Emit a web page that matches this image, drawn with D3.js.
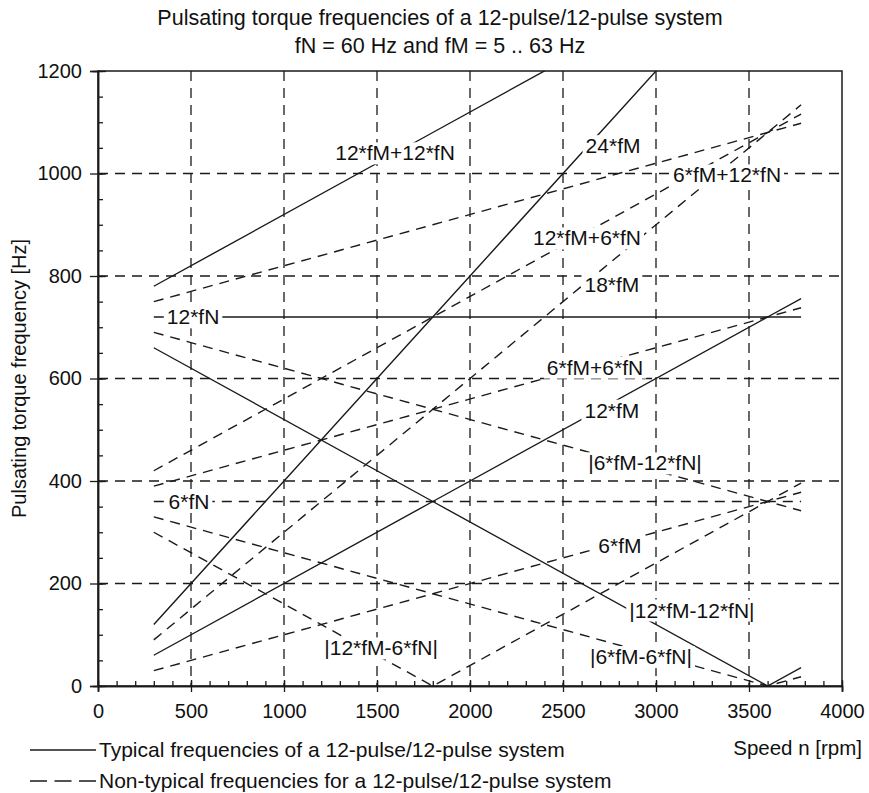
<!DOCTYPE html>
<html>
<head>
<meta charset="utf-8">
<script src="https://cdn.jsdelivr.net/npm/d3@7"></script>
<style>
  body { margin: 0; background: #fff; }
  text { font-family: "Liberation Sans", Arial, sans-serif; fill: #111; }
</style>
</head>
<body>
<div id="viz"></div>
<script>
// speed n [rpm] at which each curve is read (start, kinks, end)
const speeds = [300, 1800, 3600, 3780];

// pulsating torque frequency [Hz] per curve, read at the speeds above
const f12M12N = [780, 1080, 1440, 1476];
const f24M = [120, 720, 1440, 1512];
const f18M = [90, 540, 1080, 1134];
const f12M6N = [420, 720, 1080, 1116];
const f6M12N = [750, 900, 1080, 1098];
const f12N = [720, 720, 720, 720];
const f6M6N = [390, 540, 720, 738];
const f12M = [60, 360, 720, 756];
const fAbs6M12N = [690, 540, 360, 342];
const f6N = [360, 360, 360, 360];
const f6M = [30, 180, 360, 378];
const fAbs12M12N = [660, 360, 0, 36];
const fAbs12M6N = [300, 0, 360, 396];
const fAbs6M6N = [330, 180, 0, 18];

const seriesNames = ['12*fM+12*fN', '24*fM', '18*fM', '12*fM+6*fN', '6*fM+12*fN', '12*fN',
  '6*fM+6*fN', '12*fM', '|6*fM-12*fN|', '6*fN', '6*fM', '|12*fM-12*fN|', '|12*fM-6*fN|', '|6*fM-6*fN|'];
const seriesValues = [f12M12N, f24M, f18M, f12M6N, f6M12N, f12N,
  f6M6N, f12M, fAbs6M12N, f6N, f6M, fAbs12M12N, fAbs12M6N, fAbs6M6N];
const seriesTypical = [true, true, false, false, false, true,
  false, true, false, false, false, true, false, false];

// where each label sits, in chart units (rpm, Hz)
const labelSpeed = [1597, 2769, 2763, 2629, 3382, 511, 2672, 2763, 2941, 489, 2806, 3193, 1522, 2919];
const labelFreq = [1040, 1054, 784, 874, 997, 720, 622, 538, 435, 360, 273, 148, 74, 57];

const xTicks = [0, 500, 1000, 1500, 2000, 2500, 3000, 3500, 4000];
const yTicks = [0, 200, 400, 600, 800, 1000, 1200];

const legendLabels = ['Typical frequencies of a 12-pulse/12-pulse system',
  'Non-typical frequencies for a 12-pulse/12-pulse system'];

const width = 869;
const height = 793;
const margin = { top: 71, right: 27, bottom: 107, left: 98 };
const boundedWidth = width - margin.left - margin.right;
const boundedHeight = height - margin.top - margin.bottom;
const ink = '#1a1a1a';
const dash = '10,7';

const svg = d3.select('#viz').append('svg')
  .attr('width', width)
  .attr('height', height);

svg.append('defs').append('clipPath').attr('id', 'plot-clip')
  .append('rect').attr('width', boundedWidth).attr('height', boundedHeight);

const xScale = d3.scaleLinear().domain([0, 4000]).range([0, boundedWidth]);
const yScale = d3.scaleLinear().domain([0, 1200]).range([boundedHeight, 0]);

const viz = svg.append('g')
  .attr('transform', `translate(${margin.left}, ${margin.top})`);

// dashed grid
viz.append('g').selectAll('line')
  .data(xTicks.slice(1, -1)).join('line')
  .attr('x1', d => xScale(d)).attr('x2', d => xScale(d))
  .attr('y1', 0).attr('y2', boundedHeight)
  .attr('stroke', ink).attr('stroke-width', 1.3).attr('stroke-dasharray', dash);
viz.append('g').selectAll('line')
  .data(yTicks.slice(1, -1)).join('line')
  .attr('x1', 0).attr('x2', boundedWidth)
  .attr('y1', d => yScale(d)).attr('y2', d => yScale(d))
  .attr('stroke', ink).attr('stroke-width', 1.3).attr('stroke-dasharray', dash);

// curves
const line = d3.line().x(d => xScale(d[0])).y(d => yScale(d[1]));
viz.append('g').attr('clip-path', 'url(#plot-clip)')
  .selectAll('path')
  .data(seriesValues).join('path')
  .attr('d', vals => line(speeds.map((s, i) => [s, vals[i]])))
  .attr('fill', 'none')
  .attr('stroke', ink)
  .attr('stroke-width', 1.4)
  .attr('stroke-dasharray', (d, i) => seriesTypical[i] ? null : dash);

// frame
viz.append('rect')
  .attr('width', boundedWidth).attr('height', boundedHeight)
  .attr('fill', 'none').attr('stroke', ink).attr('stroke-width', 1.5);

// axes: major ticks cross the axis, minor ticks point inside
const xAxis = viz.append('g').attr('transform', `translate(0, ${boundedHeight})`);
xAxis.call(d3.axisBottom(xScale).tickValues(d3.range(0, 4001, 100)).tickSize(5).tickFormat(''))
  .selectAll('.tick line').attr('y2', -5);
xAxis.append('g').call(d3.axisBottom(xScale).tickValues(xTicks).tickSize(6).tickPadding(12).tickFormat(d3.format('d')))
  .call(g => g.selectAll('.tick line').attr('y1', -6));
xAxis.selectAll('.domain').attr('stroke', ink).attr('stroke-width', 1.5);
xAxis.selectAll('.tick line').attr('stroke', ink).attr('stroke-width', 1.3);
xAxis.selectAll('text').style('font-size', '20px').attr('fill', '#111');

const yAxis = viz.append('g');
yAxis.call(d3.axisLeft(yScale).tickValues(d3.range(0, 1201, 50)).tickSize(5).tickFormat(''))
  .selectAll('.tick line').attr('x2', 5);
yAxis.append('g').call(d3.axisLeft(yScale).tickValues(yTicks).tickSize(8).tickPadding(8).tickFormat(d3.format('d')))
  .call(g => g.selectAll('.tick line').attr('x1', 8));
yAxis.selectAll('.domain').attr('stroke', ink).attr('stroke-width', 1.5);
yAxis.selectAll('.tick line').attr('stroke', ink).attr('stroke-width', 1.3);
yAxis.selectAll('text').style('font-size', '20px').attr('fill', '#111');

// curve labels on white patches
const labels = viz.append('g').selectAll('g')
  .data(seriesNames).join('g')
  .attr('transform', (d, i) => `translate(${xScale(labelSpeed[i])}, ${yScale(labelFreq[i])})`);
labels.append('text')
  .attr('text-anchor', 'middle')
  .attr('dy', '0.35em')
  .style('font-size', '21px')
  .text(d => d);
labels.each(function () {
  const g = d3.select(this);
  const bb = g.select('text').node().getBBox();
  g.insert('rect', 'text')
    .attr('x', bb.x - 3).attr('y', bb.y + 1)
    .attr('width', bb.width + 6).attr('height', bb.height - 1)
    .attr('fill', '#fff');
});

// titles
svg.append('text').attr('x', 440).attr('y', 25).attr('text-anchor', 'middle')
  .style('font-size', '21.5px').text('Pulsating torque frequencies of a 12-pulse/12-pulse system');
svg.append('text').attr('x', 440).attr('y', 53).attr('text-anchor', 'middle')
  .style('font-size', '21.5px').text('fN = 60 Hz and fM = 5 .. 63 Hz');

svg.append('text')
  .attr('transform', `translate(26, ${margin.top + boundedHeight / 2}) rotate(-90)`)
  .attr('text-anchor', 'middle')
  .style('font-size', '20px')
  .text('Pulsating torque frequency [Hz]');

svg.append('text').attr('x', 862).attr('y', 755).attr('text-anchor', 'end')
  .style('font-size', '20.5px').text('Speed n [rpm]');

// legend
const legend = svg.append('g').selectAll('g')
  .data(legendLabels).join('g')
  .attr('transform', (d, i) => `translate(30, ${750 + i * 31})`);
legend.append('line')
  .attr('x1', 0).attr('x2', 66)
  .attr('stroke', ink).attr('stroke-width', 1.4)
  .attr('stroke-dasharray', (d, i) => i === 0 ? null : '17,7.5');
legend.append('text')
  .attr('x', 69).attr('dy', '0.35em')
  .style('font-size', '21px')
  .text(d => d);
</script>
</body>
</html>
